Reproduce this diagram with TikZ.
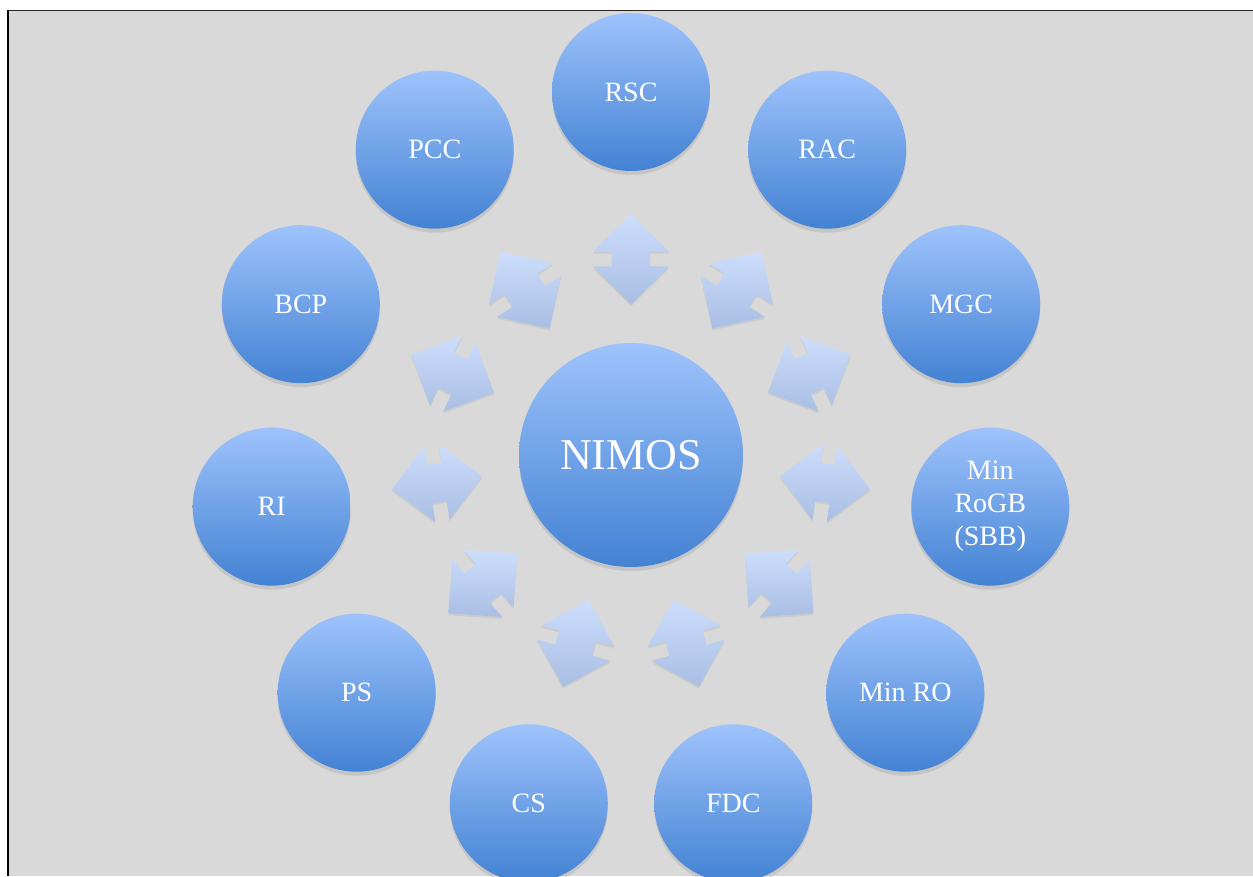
\documentclass[tikz,border=0pt]{standalone}
\usepackage{fontspec}
\setmainfont{Liberation Serif}
\usepackage{tikz}
\usetikzlibrary{calc,shapes.arrows,shadows}
\usepackage{xcolor}

\definecolor{slide}{HTML}{D9D9D9}
\definecolor{balltop}{HTML}{9EC3FC}
\definecolor{ballbot}{HTML}{4382D3}
\definecolor{arrtop}{HTML}{CDDEFC}
\definecolor{arrbot}{HTML}{A9BEE4}

\begin{document}
\begin{tikzpicture}[x=1pt,y=1pt]
    \tikzstyle{every node}=[text=white,inner sep=0pt]
    \tikzstyle{hub}=[circle,minimum size=224pt,top color=balltop,bottom color=ballbot,
        font=\fontsize{44}{46}\selectfont,
        drop shadow={shadow xshift=0pt,shadow yshift=-4pt,opacity=.22}]
    \tikzstyle{sat}=[circle,minimum size=158pt,top color=balltop,bottom color=ballbot,
        font=\fontsize{28}{33}\selectfont,align=center,
        drop shadow={shadow xshift=0pt,shadow yshift=-4pt,opacity=.22}]
    \tikzstyle{link}=[double arrow,double arrow tip angle=90,double arrow head extend=19pt,
        inner xsep=0pt,inner ysep=19pt,minimum height=91pt,top color=arrtop,bottom color=arrbot,
        drop shadow={shadow xshift=0pt,shadow yshift=-2pt,opacity=.15}]

    \useasboundingbox (0,0) rectangle (1253,876);
    \fill[slide] (8,0) rectangle (1253,865);
    \draw[line width=1pt,black!85] (8,865) -- (1253,865);
    \draw[line width=2.5pt] (8,0) -- (8,865.5);

    \node[hub] (nimos) at (631,421) {NIMOS};

    \node[sat] (rsc)  at ($(nimos)+(90:363)$)      {RSC};
    \node[sat] (rac)  at ($(nimos)+(57.27:363)$)   {RAC};
    \node[sat] (mgc)  at ($(nimos)+(24.55:363)$)   {MGC};
    \node[sat] (sbb)  at ($(nimos)+(-8.18:363)$)   {Min\\RoGB\\(SBB)};
    \node[sat] (minro) at ($(nimos)+(-40.91:363)$) {Min RO};
    \node[sat] (fdc)  at ($(nimos)+(-73.64:363)$)  {FDC};
    \node[sat] (cs)   at ($(nimos)+(-106.36:363)$) {CS};
    \node[sat] (ps)   at ($(nimos)+(-139.09:363)$) {PS};
    \node[sat] (ri)   at ($(nimos)+(-171.82:363)$) {RI};
    \node[sat] (bcp)  at ($(nimos)+(155.45:363)$)  {BCP};
    \node[sat] (pcc)  at ($(nimos)+(122.73:363)$)  {PCC};

    % two-way links between the hub and each ball
    \node[link,rotate=90]      (l-rsc)   at ($(nimos)!.54!(rsc)$)   {};
    \node[link,rotate=57.27]   (l-rac)   at ($(nimos)!.54!(rac)$)   {};
    \node[link,rotate=24.55]   (l-mgc)   at ($(nimos)!.54!(mgc)$)   {};
    \node[link,rotate=-8.18]   (l-sbb)   at ($(nimos)!.54!(sbb)$)   {};
    \node[link,rotate=-40.91]  (l-minro) at ($(nimos)!.54!(minro)$) {};
    \node[link,rotate=-73.64]  (l-fdc)   at ($(nimos)!.54!(fdc)$)   {};
    \node[link,rotate=-106.36] (l-cs)    at ($(nimos)!.54!(cs)$)    {};
    \node[link,rotate=-139.09] (l-ps)    at ($(nimos)!.54!(ps)$)    {};
    \node[link,rotate=-171.82] (l-ri)    at ($(nimos)!.54!(ri)$)    {};
    \node[link,rotate=155.45]  (l-bcp)   at ($(nimos)!.54!(bcp)$)   {};
    \node[link,rotate=122.73]  (l-pcc)   at ($(nimos)!.54!(pcc)$)   {};
\end{tikzpicture}
\end{document}
